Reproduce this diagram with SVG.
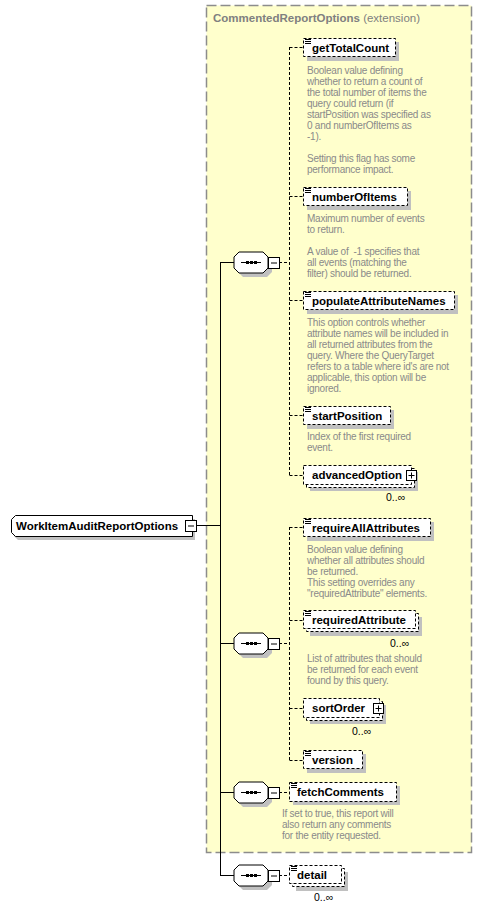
<svg xmlns="http://www.w3.org/2000/svg" width="482" height="910" viewBox="0 0 482 910">
<style>
.ext{fill:#ffffcc;stroke:#8c8c8c;stroke-width:1.5;stroke-dasharray:10,4}
.title{font-family:"Liberation Sans",Arial,sans-serif;font-size:11.5px;fill:#808080}
.box{fill:#fff;stroke:#000;stroke-width:1;stroke-dasharray:3,2}
.sh{fill:#c0c0c0}
.name{font-family:"Liberation Sans",Arial,sans-serif;font-size:11.5px;font-weight:bold;fill:#000}
.doc{font-family:"Liberation Sans",Arial,sans-serif;font-size:10px;letter-spacing:-0.25px;fill:#8a8a8a}
.occ{font-family:"Liberation Sans",Arial,sans-serif;font-size:10.5px;fill:#000}
.solid{stroke:#000;stroke-width:1;fill:none}
.dash{stroke:#000;stroke-width:1;fill:none;stroke-dasharray:3,2}
.wb{fill:#fff;stroke:#000;stroke-width:1}
.ic{stroke:#000;stroke-width:1}
</style>
<defs>
<g id="icon"><path class="ic" d="M0,0.5h6M0,2.5h6M0,4.5h6"/></g>
<g id="seq">
<polygon class="sh" points="9,4 29,4 38,9 38,20 33,25 9,25 4,20 4,9"/>
<polygon class="wb" points="5,0 29,0 34,5 34,16 29,21 5,21 0,16 0,5"/>
<path class="solid" d="M7,10.5h20"/>
<rect x="12" y="9" width="3" height="3" fill="#000"/>
<rect x="16" y="9" width="3" height="3" fill="#000"/>
<rect x="20" y="9" width="3" height="3" fill="#000"/>
<rect class="wb" x="34.5" y="5.5" width="11" height="11"/>
<path class="solid" d="M37,11h6"/>
</g>
<g id="plus">
<rect class="wb" x="0.5" y="0.5" width="10" height="10"/>
<path class="solid" d="M2.5,5.5h6M5.5,2.5v6"/>
</g>
</defs>

<rect class="ext" x="206.5" y="5.5" width="265" height="847"/>
<text class="title" x="213" y="22"><tspan font-weight="bold">CommentedReportOptions</tspan> (extension)</text>

<g id="connectors">
<path class="solid" d="M197,525.5H220.5M220.5,262V875.5M220,262.5H234M220,643.5H234M220,792.5H234M220,875.5H234"/>
<path class="dash" d="M279,262.5H289.5M289.5,47V475.5M289.5,47.5H303M289.5,196.5H303M289.5,300.5H303M289.5,415.5H303M289.5,475.5H303"/>
<path class="dash" d="M279,643.5H289.5M289.5,527V760.5M289.5,527.5H303M289.5,620.5H303M289.5,708.5H303M289.5,760.5H303"/>
<path class="dash" d="M279,792.5H289M279,875.5H289"/>
</g>

<g id="root">
<polygon class="sh" points="18,519 195,519 195,540 18,540 14,536 14,523"/>
<path class="wb" d="M15.5,515.5H192.5V536.5H15.5L11.5,532.5V519.5Z"/>
<text class="name" x="16" y="530">WorkItemAuditReportOptions</text>
<rect class="wb" x="185.5" y="520.5" width="11" height="11"/>
<path class="solid" d="M188,526h6"/>
</g>

<g id="seq1"><use href="#seq" x="234" y="252"/></g>
<g id="seq2"><use href="#seq" x="234" y="633"/></g>
<g id="seq3"><use href="#seq" x="234" y="782"/></g>
<g id="seq4"><use href="#seq" x="234" y="865"/></g>

<g id="getTotalCount">
<rect class="sh" x="307" y="42" width="92" height="19"/>
<rect class="box" x="303.5" y="38.5" width="92" height="18"/>
<use href="#icon" x="305" y="39"/>
<text class="name" x="312" y="52">getTotalCount</text>
<text class="doc" x="307"><tspan x="307" y="74">Boolean value defining</tspan><tspan x="307" y="85">whether to return a count of</tspan><tspan x="307" y="96">the total number of items the</tspan><tspan x="307" y="107">query could return (if</tspan><tspan x="307" y="118">startPosition was specified as</tspan><tspan x="307" y="129">0 and numberOfItems as</tspan><tspan x="307" y="140">-1).</tspan><tspan x="307" y="162">Setting this flag has some</tspan><tspan x="307" y="173">performance impact.</tspan></text>
</g>

<g id="numberOfItems">
<rect class="sh" x="307" y="191" width="104" height="19"/>
<rect class="box" x="303.5" y="187.5" width="104" height="18"/>
<use href="#icon" x="305" y="188"/>
<text class="name" x="312" y="201">numberOfItems</text>
<text class="doc"><tspan x="307" y="222">Maximum number of events</tspan><tspan x="307" y="233">to return.</tspan><tspan x="307" y="255" xml:space="preserve">A value of  -1 specifies that</tspan><tspan x="307" y="266">all events (matching the</tspan><tspan x="307" y="277">filter) should be returned.</tspan></text>
</g>

<g id="populateAttributeNames">
<rect class="sh" x="307" y="295" width="151" height="19"/>
<rect class="box" x="303.5" y="291.5" width="151" height="18"/>
<use href="#icon" x="305" y="292"/>
<text class="name" x="312" y="305">populateAttributeNames</text>
<text class="doc"><tspan x="307" y="326">This option controls whether</tspan><tspan x="307" y="337">attribute names will be included in</tspan><tspan x="307" y="348">all returned attributes from the</tspan><tspan x="307" y="359">query. Where the QueryTarget</tspan><tspan x="307" y="370">refers to a table where id's are not</tspan><tspan x="307" y="381">applicable, this option will be</tspan><tspan x="307" y="392">ignored.</tspan></text>
</g>

<g id="startPosition">
<rect class="sh" x="307" y="410" width="87" height="19"/>
<rect class="box" x="303.5" y="406.5" width="87" height="18"/>
<use href="#icon" x="305" y="407"/>
<text class="name" x="312" y="420">startPosition</text>
<text class="doc"><tspan x="307" y="440">Index of the first required</tspan><tspan x="307" y="451">event.</tspan></text>
</g>

<g id="advancedOption">
<rect class="sh" x="310" y="472" width="108" height="19"/>
<rect class="box" x="306.5" y="468.5" width="108" height="19"/>
<rect class="box" x="303.5" y="465.5" width="108" height="19"/>
<text class="name" x="312" y="479">advancedOption</text>
<use href="#plus" x="406" y="470"/>
<text class="occ" x="386" y="501">0..∞</text>
</g>

<g id="requireAllAttributes">
<rect class="sh" x="307" y="522" width="127" height="19"/>
<rect class="box" x="303.5" y="518.5" width="127" height="18"/>
<use href="#icon" x="305" y="519"/>
<text class="name" x="312" y="532">requireAllAttributes</text>
<text class="doc"><tspan x="307" y="553">Boolean value defining</tspan><tspan x="307" y="564">whether all attributes should</tspan><tspan x="307" y="575">be returned.</tspan><tspan x="307" y="586">This setting overrides any</tspan><tspan x="307" y="597">"requiredAttribute" elements.</tspan></text>
</g>

<g id="requiredAttribute">
<rect class="sh" x="310" y="617" width="112" height="19"/>
<rect class="box" x="306.5" y="613.5" width="112" height="18"/>
<rect class="box" x="303.5" y="610.5" width="112" height="18"/>
<use href="#icon" x="305" y="611"/>
<text class="name" x="312" y="624">requiredAttribute</text>
<text class="occ" x="390" y="647">0..∞</text>
<text class="doc"><tspan x="307" y="662">List of attributes that should</tspan><tspan x="307" y="673">be returned for each event</tspan><tspan x="307" y="684">found by this query.</tspan></text>
</g>

<g id="sortOrder">
<rect class="sh" x="310" y="705" width="76" height="19"/>
<rect class="box" x="306.5" y="701.5" width="76" height="19"/>
<rect class="box" x="303.5" y="698.5" width="76" height="19"/>
<text class="name" x="312" y="712">sortOrder</text>
<use href="#plus" x="373" y="703"/>
<text class="occ" x="352" y="735">0..∞</text>
</g>

<g id="version">
<rect class="sh" x="307" y="754" width="59" height="19"/>
<rect class="box" x="303.5" y="750.5" width="59" height="18"/>
<use href="#icon" x="305" y="751"/>
<text class="name" x="312" y="764">version</text>
</g>

<g id="fetchComments">
<rect class="sh" x="293" y="786" width="107" height="19"/>
<rect class="box" x="289.5" y="782.5" width="107" height="19"/>
<use href="#icon" x="291" y="783"/>
<text class="name" x="297" y="796">fetchComments</text>
<text class="doc"><tspan x="282" y="817">If set to true, this report will</tspan><tspan x="282" y="828">also return any comments</tspan><tspan x="282" y="839">for the entity requested.</tspan></text>
</g>

<g id="detail">
<rect class="sh" x="296" y="872" width="52" height="19"/>
<rect class="box" x="292.5" y="868.5" width="52" height="18"/>
<rect class="box" x="289.5" y="865.5" width="52" height="18"/>
<use href="#icon" x="291" y="866"/>
<text class="name" x="297" y="879">detail</text>
<text class="occ" x="314" y="901">0..∞</text>
</g>
</svg>
